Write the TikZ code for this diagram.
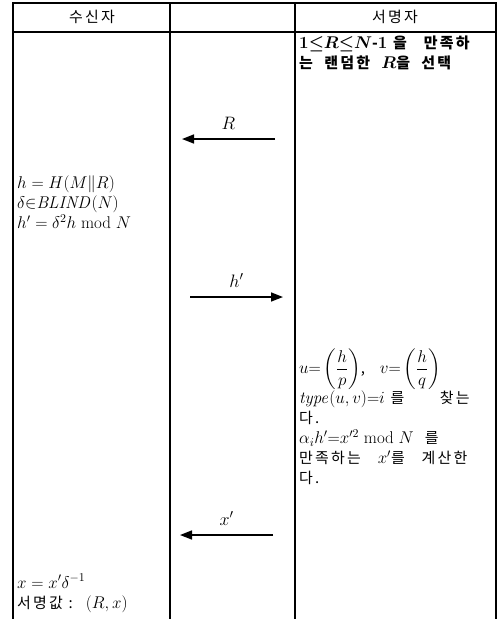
\RequirePackage{fix-cm}
\documentclass[tikz,border=0pt]{standalone}
\usepackage{amsmath,amssymb}
\usepackage[no-math]{fontspec}
\setmainfont{Noto Sans CJK KR}[Scale=0.88, LetterSpace=15]
\usetikzlibrary{arrows.meta}

\begin{document}
\begin{tikzpicture}[x=1pt,y=-1pt,
  rule/.style={line width=1.2pt},
  msg/.style={-{Triangle[length=12pt,width=9pt]}, line width=1.6pt},
  txt/.style={font=\fontsize{17}{20}\selectfont, inner sep=0pt, align=left, anchor=north west},
  head/.style={font=\fontsize{17}{16}\selectfont, inner sep=0pt},
  lbl/.style={font=\fontsize{18}{16}\selectfont, inner sep=0pt},
]
\useasboundingbox (0,0) rectangle (502,619);
% table frame
\draw[rule] (13,619) -- (13,3) -- (496,3) -- (496,619);
\draw[rule] (13,32) -- (496,32);
\draw[rule] (170,3) -- (170,619);
\draw[rule] (295,3) -- (295,619);
% headers
\node[head] (recv) at (92,17) {수신자};
\node[head] (signer) at (395,17) {서명자};
% signer: choose R
\node[txt, font=\fontsize{17}{20}\selectfont\bfseries\boldmath] (choose) at (299,36) {$1{\leq}R{\leq}N$-$1$ 을 \ \ 만족하\\ 는 \ 랜덤한 \ $R$을 \ 선택};
\coordinate (rS) at (275,139);
\coordinate (rE) at (182,139);
\draw[msg] (rS) -- node[lbl, above=9pt] {$R$} (rE);
% receiver: blinding
\node[txt] (blind) at (17,176) {$h=H(M\|R)$\\ $\delta{\in}\mathit{BLIND}(N)$\\ $h'=\delta^2h \bmod N$};
\coordinate (hS) at (190,297);
\coordinate (hE) at (283,297);
\draw[msg] (hS) -- node[lbl, above=9pt] {$h'$} (hE);
% signer: square root
\node[txt] (root) at (299,349) {$u{=}\left(\dfrac{h}{p}\right)$,\quad $v{=}\left(\dfrac{h}{q}\right)$\\ $\mathit{type}(u,v){=}i$ 를 \qquad 찾는\\ 다.\\ $\alpha_ih'{=}x'^2 \bmod N$ \ 를\\ 만족하는 \ \ $x'$를 \ \ 계산한\\ 다.};
\coordinate (xS) at (273,535);
\coordinate (xE) at (180,535);
\draw[msg] (xS) -- node[lbl, above=9pt] {$x'$} (xE);
% receiver: unblinding
\node[txt] (result) at (17,574) {$x=x'\delta^{-1}$\\ 서명값 : \ $(R,x)$};
\end{tikzpicture}
\end{document}
